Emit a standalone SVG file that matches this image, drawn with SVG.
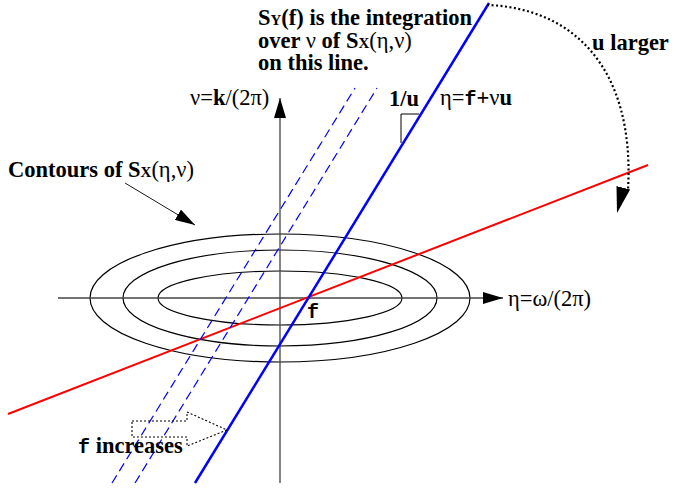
<svg xmlns="http://www.w3.org/2000/svg" width="676" height="495" viewBox="0 0 676 495">
<style>
.t{font-family:'Liberation Serif','DejaVu Serif',serif;font-weight:bold;font-size:22.5px;fill:#000}
.r{font-family:'Liberation Serif','DejaVu Serif',serif;font-weight:normal;font-size:22.5px;fill:#000}
.m{font-family:'Liberation Mono','DejaVu Sans Mono',monospace;font-weight:bold}
.sub{font-size:15px}
.ell{fill:none;stroke:#000;stroke-width:1.2}
.axis{stroke:#444;stroke-width:1.3;fill:none}
</style>
<defs>
<marker id="ah" markerWidth="20" markerHeight="12" refX="20" refY="6" orient="auto" markerUnits="userSpaceOnUse">
<path d="M0,0 L20,6 L0,12 Z" fill="#000"/>
</marker>
<marker id="ah2" markerWidth="26" markerHeight="14" refX="26" refY="7" orient="auto" markerUnits="userSpaceOnUse">
<path d="M0,0 L26,7 L0,14 Z" fill="#000"/>
</marker>
</defs>
<g id="contours">
<ellipse class="ell" cx="280" cy="298" rx="190" ry="64"/>
<ellipse class="ell" cx="280" cy="298" rx="157" ry="48"/>
<ellipse class="ell" cx="280" cy="298" rx="122" ry="27"/>
</g>
<g id="axes">
<line class="axis" x1="58" y1="298" x2="503" y2="298" marker-end="url(#ah)"/>
<line class="axis" x1="280" y1="483" x2="280" y2="98" marker-end="url(#ah)"/>
</g>
<g id="connectors">
<line x1="8" y1="414" x2="648" y2="165" stroke="#f00" stroke-width="2"/>
<line x1="195" y1="483" x2="489" y2="3" stroke="#00f" stroke-width="2.5"/>
<line x1="112" y1="483" x2="355" y2="88" stroke="#00f" stroke-width="1.2" stroke-dasharray="9,5"/>
<line x1="135" y1="483" x2="377" y2="88" stroke="#00f" stroke-width="1.2" stroke-dasharray="9,5"/>
<polyline points="401,143 401,114 419,114" fill="none" stroke="#000" stroke-width="1"/>
<path d="M487,5 C575,8 635,70 628,190" fill="none" stroke="#000" stroke-width="2.2" stroke-dasharray="2,2.5"/>
<path d="M624,185 L617,213" fill="none" stroke="none" marker-end="url(#ah2)"/>
<line x1="125" y1="183" x2="195" y2="225" stroke="#000" stroke-width="0.9" marker-end="url(#ah)"/>
<path d="M132,421 L187,421 L187,412 L227,430 L187,446 L187,437 L132,437 Z" fill="none" stroke="#000" stroke-width="1.1" stroke-dasharray="2,2"/>
</g>
<g id="label-top">
<text class="t" x="258" y="25">S<tspan class="sub">Y</tspan>(f) is the integration</text>
<text class="t" x="258" y="47.5">over <tspan class="r">ν</tspan> of S<tspan class="sub">X</tspan><tspan class="r">(η,ν)</tspan></text>
<text class="t" x="258" y="70">on this line.</text>
</g>
<g id="label-ularger"><text class="t" x="592" y="50">u larger</text></g>
<g id="label-contours"><text class="t" x="8" y="177">Contours of S<tspan class="sub">X</tspan><tspan class="r">(η,ν)</tspan></text></g>
<g id="label-nu"><text class="r" x="190" y="105">ν=<tspan class="t">k</tspan>/(2π)</text></g>
<g id="label-eta"><text class="r" x="508" y="306">η=ω/(2π)</text></g>
<g id="label-1u"><text class="t" x="389" y="106" font-size="21">1/u</text></g>
<g id="label-line"><text class="r" x="440" y="105">η=<tspan class="m" font-size="20">f</tspan><tspan class="t">+</tspan>ν<tspan class="t">u</tspan></text></g>
<g id="label-f"><text class="m" font-size="20" x="307" y="318">f</text></g>
<g id="label-finc"><text class="t" x="78" y="453"><tspan class="m" font-size="20">f</tspan> increases</text></g>
</svg>
